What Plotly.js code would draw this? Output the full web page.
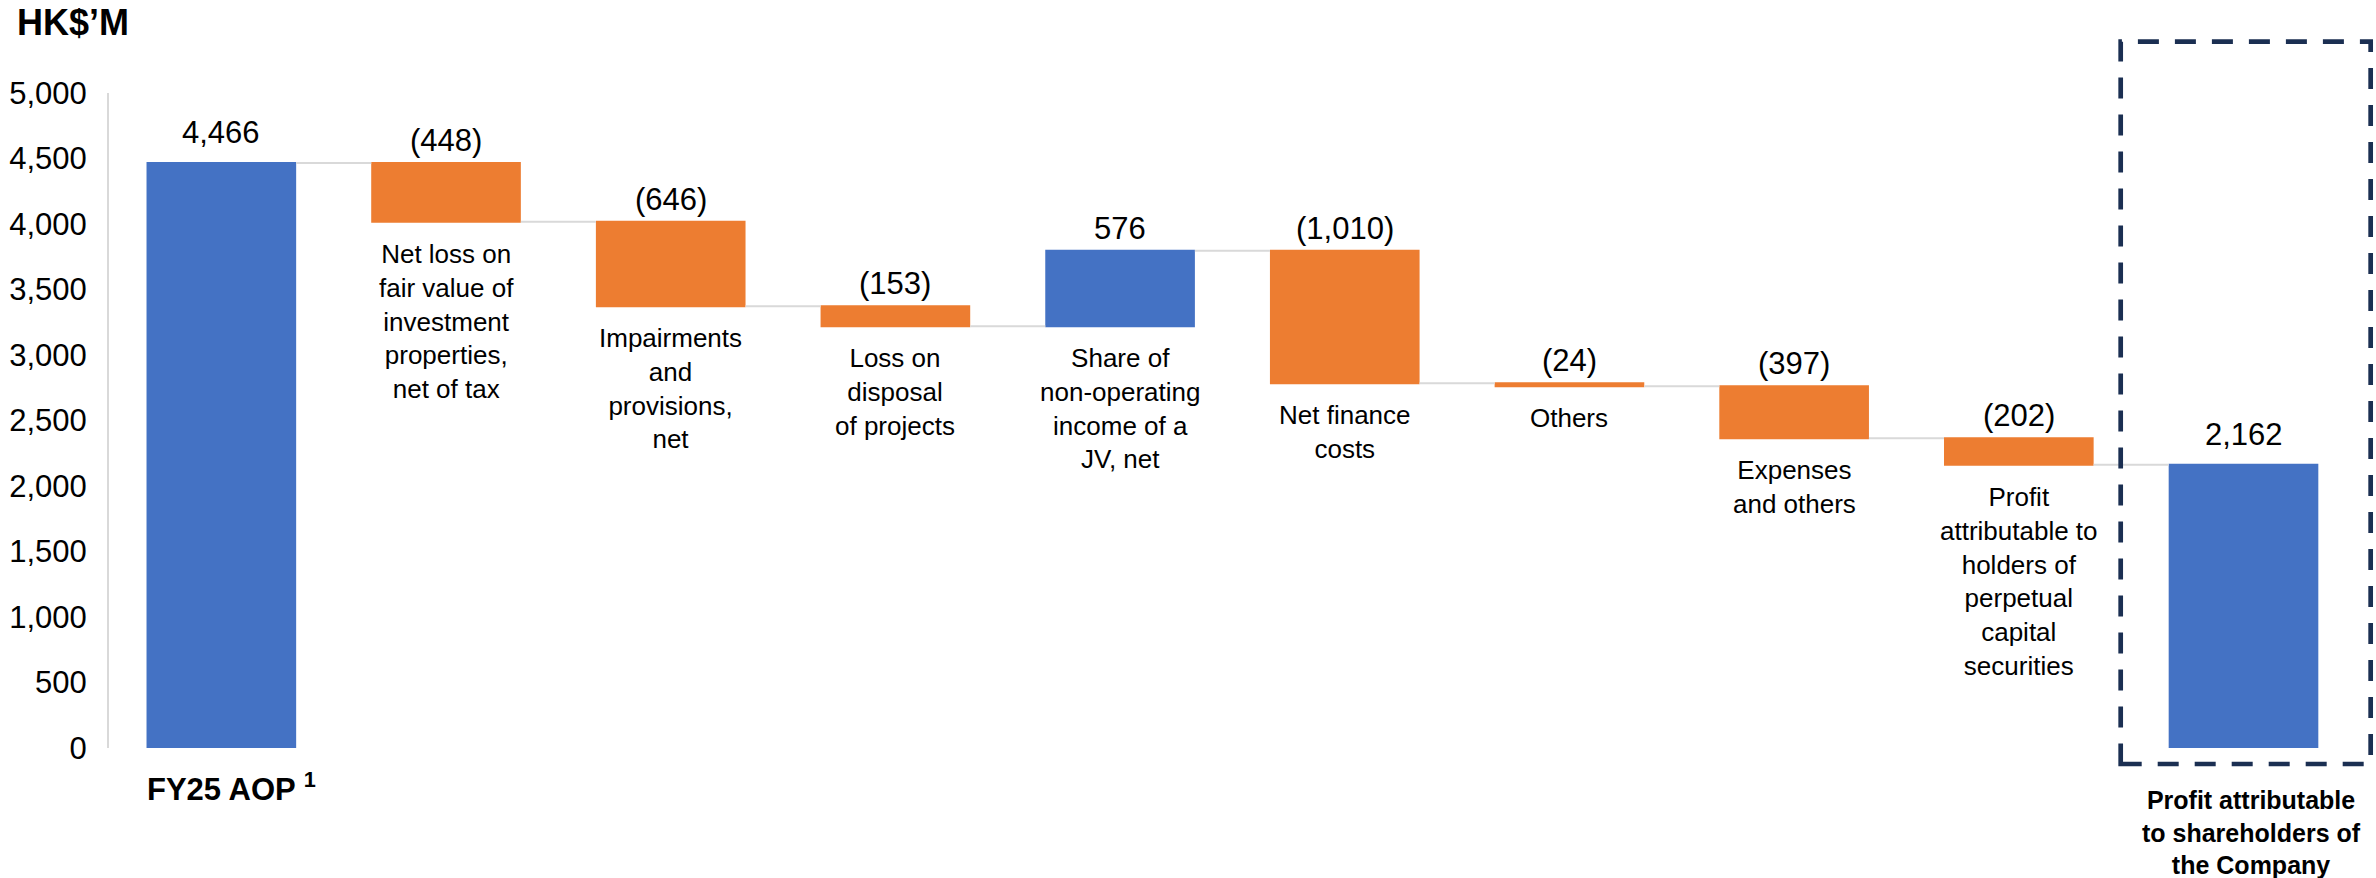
<!DOCTYPE html>
<html>
<head>
<meta charset="utf-8">
<script src="https://cdn.plot.ly/plotly-3.0.1.min.js"></script>
<style>
  html, body { margin: 0; padding: 0; background: #ffffff; }
  #chart { width: 2376px; height: 878px; }
</style>
</head>
<body>
<div id="chart"></div>
<script>
// ---- Data ----
const categories = [
  "FY25 AOP",
  "Net loss on fair value of investment properties, net of tax",
  "Impairments and provisions, net",
  "Loss on disposal of projects",
  "Share of non-operating income of a JV, net",
  "Net finance costs",
  "Others",
  "Expenses and others",
  "Profit attributable to holders of perpetual capital securities",
  "Profit attributable to shareholders of the Company"
];
const categoryLabels = [
  "FY25 AOP <sup>1</sup>",
  "Net loss on<br>fair value of<br>investment<br>properties,<br>net of tax",
  "Impairments<br>and<br>provisions,<br>net",
  "Loss on<br>disposal<br>of projects",
  "Share of<br>non-operating<br>income of a<br>JV, net",
  "Net finance<br>costs",
  "Others",
  "Expenses<br>and others",
  "Profit<br>attributable to<br>holders of<br>perpetual<br>capital<br>securities",
  "Profit attributable<br>to shareholders of<br>the Company"
];
const values = [4466, -448, -646, -153, 576, -1010, -24, -397, -202, 2162];
const measures = ["absolute", "relative", "relative", "relative", "relative",
                  "relative", "relative", "relative", "relative", "total"];
const yTickValues = [0, 500, 1000, 1500, 2000, 2500, 3000, 3500, 4000, 4500, 5000];
const yUnitLabel = "HK$’M";

// ---- Styles ----
const FONT = "Liberation Sans, Arial, Helvetica, sans-serif";
const BLUE = "#4472C4";
const ORANGE = "#ED7D31";
const NAVY = "#1B2F52";

function fmt(v) {
  const s = Math.abs(v).toLocaleString("en-US");
  return v < 0 ? "(" + s + ")" : s;
}

// compute bar extents from the data
let running = 0;
const tops = [], bottoms = [];
values.forEach((v, i) => {
  let start, end;
  if (measures[i] === "absolute") { start = 0; end = v; running = v; }
  else if (measures[i] === "total") { start = 0; end = running; }
  else { start = running; end = running + v; running = end; }
  tops.push(Math.max(start, end));
  bottoms.push(Math.min(start, end));
});

const trace = {
  type: "waterfall",
  x: categories,
  y: values,
  measure: measures,
  textinfo: "none",
  hoverinfo: "x+y",
  increasing: { marker: { color: BLUE } },
  decreasing: { marker: { color: ORANGE } },
  totals: { marker: { color: BLUE } },
  connector: { mode: "between", line: { color: "#D9D9D9", width: 2 } }
};

const annotations = [];
values.forEach((v, i) => {
  const isEnd = measures[i] !== "relative";
  // value labels
  annotations.push({
    x: categories[i], y: tops[i], xref: "x", yref: "y",
    text: fmt(v), showarrow: false,
    xanchor: "center", yanchor: "bottom",
    yshift: isEnd ? 11 : 3,
    font: { family: FONT, size: 31, color: "#000000" }
  });
  // category labels
  if (i === 0) {
    annotations.push({
      x: categories[i], y: 0, xref: "x", yref: "y",
      text: "<b>" + categoryLabels[i] + "</b>", showarrow: false,
      xanchor: "center", yanchor: "top", yshift: -17, xshift: 10,
      font: { family: FONT, size: 31, color: "#000000" }
    });
  } else if (i === values.length - 1) {
    annotations.push({
      x: categories[i], y: 0, xref: "x", yref: "y",
      text: "<b>" + categoryLabels[i] + "</b>", showarrow: false,
      xanchor: "center", yanchor: "top", yshift: -36, xshift: 8,
      font: { family: FONT, size: 25, color: "#000000" }
    });
  } else {
    annotations.push({
      x: categories[i], y: bottoms[i], xref: "x", yref: "y",
      text: categoryLabels[i], showarrow: false,
      xanchor: "center", yanchor: "top", yshift: -15,
      font: { family: FONT, size: 26, color: "#000000" }
    });
  }
});

annotations.push({
  xref: "paper", yref: "paper", x: -0.0417, y: 1.142,
  xanchor: "left", yanchor: "top",
  text: "<b>" + yUnitLabel + "</b>", showarrow: false,
  font: { family: FONT, size: 36, color: "#000000" }
});

const layout = {
  width: 2376, height: 878,
  margin: { l: 109, r: 13, t: 93, b: 130 },
  paper_bgcolor: "#ffffff", plot_bgcolor: "#ffffff",
  showlegend: false,
  waterfallgap: 0.334,
  font: { family: FONT, color: "#000000" },
  xaxis: {
    type: "category", automargin: false,
    showticklabels: false, showline: false, showgrid: false,
    zeroline: false, ticks: ""
  },
  yaxis: {
    range: [0, 5000], automargin: false,
    tickvals: yTickValues,
    tickformat: ",d",
    showgrid: false, zeroline: false,
    showline: true, linecolor: "#D9D9D9", linewidth: 2,
    ticks: "", ticklabelstandoff: 14,
    tickfont: { family: FONT, size: 31, color: "#000000" }
  },
  annotations: annotations,
  shapes: [{
    type: "rect", xref: "paper", yref: "paper",
    x0: 0.8925, x1: 1.0034, y0: -0.0244, y1: 1.0783,
    line: { color: NAVY, width: 4.7, dash: "21px,16px" },
    fillcolor: "rgba(0,0,0,0)", layer: "above"
  }]
};

Plotly.newPlot("chart", [trace], layout, { displayModeBar: false, staticPlot: true });
</script>
</body>
</html>
